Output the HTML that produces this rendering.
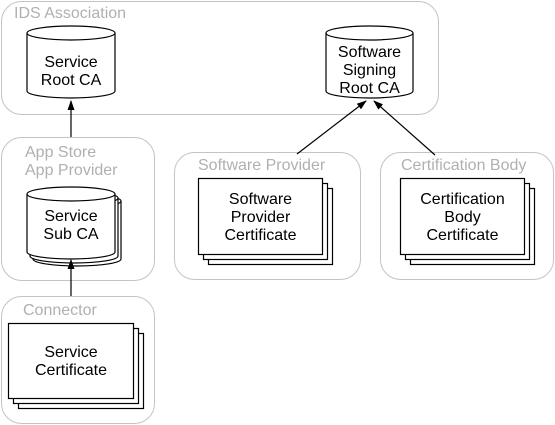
<!DOCTYPE html>
<html><head><style>
html,body{margin:0;padding:0;background:#fff;}
svg{display:block;}
text{font-family:"Liberation Sans",Arial,sans-serif;}
.g{fill:#b0b0b0;font-size:16px;}
.b{fill:#000;font-size:16px;text-anchor:middle;}
</style></head><body>
<svg width="555" height="425" viewBox="0 0 555 425" xmlns="http://www.w3.org/2000/svg">
<defs><marker id="a" markerWidth="10" markerHeight="10" refX="9" refY="5" orient="auto" markerUnits="userSpaceOnUse"><path d="M0,1.5 L10,5 L0,8.5 z" fill="#000"/></marker></defs>
<g fill="#fff" stroke="#c4c4c4" stroke-width="1">
<rect x="1.5" y="1.5" width="437" height="113" rx="20"/>
<rect x="1.5" y="137.5" width="153" height="143" rx="20"/>
<rect x="1.5" y="296.5" width="153" height="127" rx="20"/>
<rect x="174.5" y="152.5" width="186" height="127" rx="20"/>
<rect x="380.5" y="152.5" width="173" height="127" rx="20"/>
</g>
<text class="g" x="14" y="18">IDS Association</text>
<text class="g" x="25" y="157">App Store</text>
<text class="g" x="25" y="175">App Provider</text>
<text class="g" x="23" y="315">Connector</text>
<text class="g" x="198" y="170">Software Provider</text>
<text class="g" x="401" y="170">Certification Body</text>
<g stroke="#000" stroke-width="1.2" fill="#fff">
<path d="M27,33 L27,91 A44,7 0 0 0 115,91 L115,33"/>
<ellipse cx="71" cy="33" rx="44" ry="7"/>
<path d="M326,33 L326,91 A43.5,7 0 0 0 413,91 L413,33"/>
<ellipse cx="369.5" cy="33" rx="43.5" ry="7"/>
<path d="M33,201 L33,259 A44,7 0 0 0 121,259 L121,201"/>
<ellipse cx="77" cy="201" rx="44" ry="7"/>
<path d="M30,198 L30,256 A44,7 0 0 0 118,256 L118,198"/>
<ellipse cx="74" cy="198" rx="44" ry="7"/>
<path d="M27,194 L27,252 A44,7 0 0 0 115,252 L115,194"/>
<ellipse cx="71" cy="194" rx="44" ry="7"/>
<rect x="18.5" y="333.5" width="125" height="75"/>
<rect x="13.5" y="328.5" width="125" height="75"/>
<rect x="8.5" y="323.5" width="125" height="75"/>
<rect x="208.5" y="188.5" width="124" height="76"/>
<rect x="203.5" y="183.5" width="124" height="76"/>
<rect x="198.5" y="178.5" width="124" height="76"/>
<rect x="410.5" y="188.5" width="124" height="76"/>
<rect x="405.5" y="183.5" width="124" height="76"/>
<rect x="400.5" y="178.5" width="124" height="76"/>
</g>
<g stroke="#000" stroke-width="1.2" fill="none">
<line x1="71" y1="137" x2="71" y2="101" marker-end="url(#a)"/>
<line x1="71" y1="296" x2="71" y2="260" marker-end="url(#a)"/>
<line x1="297" y1="154" x2="366" y2="101" marker-end="url(#a)"/>
<line x1="435" y1="155" x2="374" y2="101" marker-end="url(#a)"/>
</g>
<text class="b" x="71" y="67">Service</text>
<text class="b" x="71" y="85">Root CA</text>
<text class="b" x="369.5" y="57">Software</text>
<text class="b" x="369.5" y="75">Signing</text>
<text class="b" x="369.5" y="93">Root CA</text>
<text class="b" x="71" y="221">Service</text>
<text class="b" x="71" y="239">Sub CA</text>
<text class="b" x="71" y="357">Service</text>
<text class="b" x="71" y="375">Certificate</text>
<text class="b" x="260.5" y="204">Software</text>
<text class="b" x="260.5" y="222">Provider</text>
<text class="b" x="260.5" y="240">Certificate</text>
<text class="b" x="462.5" y="204">Certification</text>
<text class="b" x="462.5" y="222">Body</text>
<text class="b" x="462.5" y="240">Certificate</text>
</svg>
</body></html>
